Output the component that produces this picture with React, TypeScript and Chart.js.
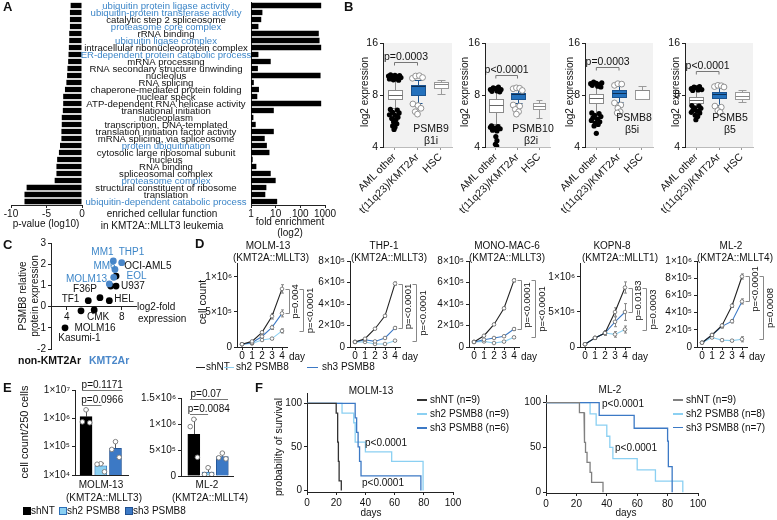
import React, { useEffect, useRef } from 'react';
import { Chart, registerables } from 'chart.js';

Chart.register(...registerables);

const FONT = '"Liberation Sans", Arial, Helvetica, sans-serif';
Chart.defaults.font.family = FONT;
Chart.defaults.font.size = 10;
Chart.defaults.color = '#111';

const INK = '#111';
const BLUE_TXT = '#3d86c8';
const BOX_BLUE = '#2371bd';
const SH2 = '#8bd0f2';
const SH3 = '#3c79c5';
const NT = '#222';

// ---------------- Panel A data ----------------
const goTerms = [
  'ubiquitin protein ligase activity',
  'ubiquitin-protein transferase activity',
  'catalytic step 2 spliceosome',
  'proteasome core complex',
  'rRNA binding',
  'ubiquitin ligase complex',
  'intracellular ribonucleoprotein complex',
  'ER-dependent protein catabolic process',
  'mRNA processing',
  'RNA secondary structure unwinding',
  'nucleolus',
  'RNA splicing',
  'chaperone-mediated protein folding',
  'nuclear speck',
  'ATP-dependent RNA helicase activity',
  'translational initiation',
  'nucleoplasm',
  'transcription, DNA-templated',
  'translation initiation factor activity',
  'mRNA splicing, via spliceosome',
  'protein ubiquitination',
  'cytosolic large ribosomal subunit',
  'nucleus',
  'RNA binding',
  'spliceosomal complex',
  'proteasome complex',
  'structural constituent of ribosome',
  'translation',
  'ubiquitin-dependent catabolic process',
];
const goProteasomeTerms = [0, 1, 3, 5, 7, 20, 25, 28];
const goLog10P = [-1.6, -1.7, -1.7, -1.7, -1.8, -1.8, -1.85, -1.9, -1.95, -2.05, -2.1, -2.2, -2.4, -2.65, -2.65, -2.7, -2.85, -2.85, -2.9, -2.9, -3.1, -3.25, -3.5, -3.6, -3.6, -3.85, -7.8, -8.1, -8.1];
const goFoldEnrichment = [700, 2.9, 2.6, 2.0, 560, 600, 700, 2.0, 6.3, 1.9, 660, 1.3, 2.1, 1.8, 700, 8.4, 1.25, 1.55, 8.4, 3.6, 4.4, 5.6, 1.17, 1.65, 6.3, 10, 4.2, 3.8, 11.5];
const pTicks = [-10, -5, 0];
const foldTicks = [1, 10, 100, 1000];

// ---------------- Panel B data ----------------
const boxGroups = ['AML other', 't(11q23)/KMT2Ar', 'HSC'];
const log2Ticks = [4, 8, 16];
// [lower whisker, q1, median, q3, upper whisker]
const psmb9Stats = [[6.7, 7.6, 8.0, 8.6, 10.1], [7.2, 8.0, 9.0, 9.1, 9.8], [8.1, 8.8, 9.3, 9.5, 9.8]];
const psmb9AmlOut = [[-0.26, 10.3], [-0.17, 10.45], [-0.08, 10.25], [0.02, 10.4], [0.12, 10.2], [0.22, 10.35], [-0.22, 9.9], [-0.05, 9.8], [0.08, 9.95], [0.18, 9.75], [0.28, 10.1], [-0.12, 10.05], [-0.18, 6.6], [0.12, 6.55], [-0.08, 6.35], [0.2, 6.3], [-0.22, 6.15], [0.02, 6.1], [0.15, 5.95], [-0.12, 5.85], [0.06, 5.75], [-0.04, 5.6], [0.1, 5.45], [-0.08, 5.3], [0.02, 5.2], [-0.02, 5.05]];
const psmb9KmtOut = [[0.78, 10.0], [0.92, 10.3], [1.08, 10.35], [1.22, 10.1], [0.8, 7.1], [1.02, 6.95], [1.15, 6.7], [0.9, 6.4], [1.0, 6.2]];
const psmb10Stats = [[5.4, 6.4, 7.0, 7.6, 8.6], [7.2, 7.6, 8.06, 8.2, 8.6], [5.9, 6.6, 6.9, 7.2, 7.5]];
const psmb10AmlOut = [[-0.25, 8.6], [-0.12, 8.8], [0.0, 8.7], [0.12, 8.9], [0.24, 8.6], [-0.18, 8.4], [0.06, 8.45], [0.18, 8.35], [-0.2, 5.3], [0.1, 5.25], [-0.05, 5.15], [0.2, 5.1], [-0.15, 5.0], [0.05, 4.95], [-0.25, 5.2], [0.0, 4.6], [0.05, 4.35], [-0.02, 4.15], [0.04, 4.05]];
const psmb10KmtOut = [[0.8, 8.7], [0.95, 8.8], [1.1, 8.75], [1.22, 8.5], [0.8, 7.0], [1.1, 6.9], [0.9, 6.6], [1.05, 6.4], [0.95, 6.2]];
const psmb8Stats = [[6.0, 7.2, 7.7, 8.06, 9.1], [7.3, 7.8, 8.2, 8.6, 9.0], [7.6, 7.6, 8.5, 8.6, 9.0]];
const psmb8AmlOut = [[-0.25, 9.3], [-0.12, 9.5], [0.0, 9.35], [0.12, 9.2], [0.24, 9.4], [-0.18, 9.1], [0.06, 9.0], [0.2, 8.9], [-0.2, 6.3], [0.12, 6.25], [-0.08, 6.1], [0.2, 6.0], [-0.15, 5.9], [0.05, 5.8], [-0.22, 5.7], [0.15, 5.6], [-0.05, 5.5], [0.08, 5.4], [-0.1, 5.3], [0.0, 4.8]];
const psmb8KmtOut = [[0.8, 9.1], [0.95, 9.3], [1.12, 9.25], [0.8, 7.2], [1.08, 7.0], [0.95, 6.7], [1.05, 6.4], [0.92, 6.3]];
const psmb5Stats = [[6.4, 7.2, 7.5, 7.8, 8.8], [7.0, 7.66, 8.06, 8.35, 8.9], [7.3, 7.6, 7.9, 8.3, 8.5]];
const psmb5AmlOut = [[-0.22, 8.7], [-0.1, 8.9], [0.02, 8.8], [0.14, 8.95], [0.24, 8.6], [-0.16, 8.5], [0.08, 8.55], [-0.2, 6.95], [0.12, 6.9], [-0.08, 6.75], [0.2, 6.7], [-0.15, 6.55], [0.05, 6.45], [-0.22, 6.35], [0.15, 6.3], [-0.05, 6.1], [0.06, 6.0], [-0.02, 5.75]];
const psmb5KmtOut = [[0.8, 8.95], [0.95, 9.1], [1.1, 9.05], [1.22, 8.9], [0.82, 6.9], [1.1, 6.8], [0.95, 6.5], [1.05, 6.35]];

// ---------------- Panel C data ----------------
const kmt2arLines = ['MM1', 'THP1', 'MM6', 'EOL', 'MOLM13'];
const kmt2arFold = [7.39, 8.0, 7.51, 7.42, 7.1];
const kmt2arProtein = [2.15, 2.07, 1.75, 1.38, 1.07];
const otherLines = ['OCI-AML5', 'U937', 'U937', 'F36P', 'TF1', 'HEL', 'CMK', 'CMK', 'MOLM16'];
const otherFold = [7.59, 7.2, 7.59, 6.42, 5.57, 7.1, 5.04, 6.0, 3.88];
const otherProtein = [1.44, 0.97, 0.97, 0.42, 0.28, 0.28, -0.2, -0.16, -1.0];

// ---------------- Panel D data ----------------
const days = [0, 1, 2, 3, 4];
const molm13NT = [0.04e6, 0.08e6, 0.21e6, 0.44e6, 0.83e6];
const molm13Sh2 = [0.04e6, 0.05e6, 0.1e6, 0.12e6, 0.23e6];
const molm13Sh3 = [0.04e6, 0.06e6, 0.15e6, 0.28e6, 0.48e6];
const molm13Err = [[0.004e6, 0.01e6, 0.02e6, 0.04e6, 0.06e6], [0.004e6, 0.008e6, 0.012e6, 0.015e6, 0.03e6], [0.004e6, 0.01e6, 0.02e6, 0.03e6, 0.05e6]];
const thp1NT = [0.047e6, 0.077e6, 0.17e6, 0.29e6, 0.59e6];
const thp1Sh2 = [0.047e6, 0.047e6, 0.028e6, 0.028e6, 0.059e6];
const thp1Sh3 = [0.047e6, 0.068e6, 0.052e6, 0.084e6, 0.177e6];
const thp1Err = [[0.003e6, 0.005e6, 0.008e6, 0.01e6, 0.015e6], [0.003e6, 0.004e6, 0.004e6, 0.004e6, 0.006e6], [0.003e6, 0.005e6, 0.005e6, 0.008e6, 0.012e6]];
const monoNT = [0.047e6, 0.105e6, 0.21e6, 0.36e6, 0.62e6];
const monoSh2 = [0.047e6, 0.052e6, 0.037e6, 0.05e6, 0.09e6];
const monoSh3 = [0.047e6, 0.068e6, 0.084e6, 0.1e6, 0.167e6];
const monoErr = [[0.003e6, 0.006e6, 0.01e6, 0.012e6, 0.015e6], [0.003e6, 0.004e6, 0.004e6, 0.005e6, 0.008e6], [0.003e6, 0.005e6, 0.006e6, 0.008e6, 0.012e6]];
const kopnNT = [0.04e6, 0.13e6, 0.2e6, 0.5e6, 0.85e6];
const kopnSh2 = [0.04e6, 0.13e6, 0.2e6, 0.18e6, 0.25e6];
const kopnSh3 = [0.04e6, 0.13e6, 0.2e6, 0.36e6, 0.5e6];
const kopnErr = [[0.004e6, 0.02e6, 0.03e6, 0.06e6, 0.08e6], [0.004e6, 0.02e6, 0.03e6, 0.04e6, 0.05e6], [0.004e6, 0.02e6, 0.03e6, 0.07e6, 0.12e6]];
const ml2NT = [0.05e6, 0.14e6, 0.25e6, 0.48e6, 0.82e6];
const ml2Sh2 = [0.05e6, 0.11e6, 0.08e6, 0.074e6, 0.09e6];
const ml2Sh3 = [0.05e6, 0.14e6, 0.24e6, 0.3e6, 0.53e6];
const ml2Err = [[0.005e6, 0.01e6, 0.02e6, 0.02e6, 0.03e6], [0.005e6, 0.01e6, 0.01e6, 0.012e6, 0.03e6], [0.005e6, 0.01e6, 0.02e6, 0.02e6, 0.03e6]];

// ---------------- Panel E data ----------------
const colonyGroups = ['shNT', 'sh2 PSMB8', 'sh3 PSMB8'];
const molm13Colony = [1.15e6, 2.1e4, 8.8e4];
const molm13ColonySd = [0.85e6, 0.5e4, 0.7e5];
const molm13ColonyReps = [[2.0e6, 0.75e6, 0.7e6], [2.5e4, 2.4e4, 1.3e4], [1.5e5, 8.0e4, 4.2e4]];
const ml2Colony = [0.8e6, 0.073e6, 0.373e6];
const ml2ColonySd = [0.29e6, 0.1e6, 0.08e6];
const ml2ColonyReps = [[1.09e6, 0.95e6, 0.36e6], [0.16e6, 0.03e6, 0.03e6], [0.44e6, 0.35e6, 0.33e6]];
const repJitter = [0, -0.25, 0.25];

// ---------------- Panel F data ----------------
// [day of event, survival (%) after event]
const molm13SurvNT = [[20, 88.9], [21, 55.6], [21.5, 33.3], [22, 11.1], [23.5, 0]];
const molm13SurvSh2 = [[24, 88.9], [32, 77.8], [33, 55.6], [40, 44.4], [58, 33.3], [79.5, 0]];
const molm13SurvSh3 = [[33, 83.3], [34, 66.7], [35, 50], [36, 33.3], [37, 16.7], [78, 0]];
const ml2SurvNT = [[22, 88.9], [25, 66.7], [25.5, 55.6], [26, 44.4], [27, 33.3], [29, 22.2], [30, 11.1], [37.5, 0]];
const ml2SurvSh2 = [[29, 87.5], [33, 75], [40, 62.5], [42, 50], [44, 37.5], [60, 25], [72, 12.5], [90, 0]];
const ml2SurvSh3 = [[35, 85.7], [58, 71.4], [80, 57.1], [80.5, 28.6], [83, 0]];
const dayTicks = [0, 20, 40, 60, 80, 100];
const survTicks = [0, 50, 100];

// ---------------- helpers ----------------
const SUP: any = { '0': '⁰', '1': '¹', '2': '²', '3': '³', '4': '⁴', '5': '⁵', '6': '⁶', '7': '⁷', '8': '⁸', '9': '⁹' };
function sci(v: number) {
  if (v === 0) return '0';
  const e = Math.floor(Math.log10(v) + 1e-9);
  const mnt = Math.round((v / Math.pow(10, e)) * 10) / 10;
  return `${mnt}×10${String(e).split('').map((c) => SUP[c]).join('')}`;
}
const fitW = (w: number) => (s: any) => { s.width = w; };
const fitH = (h: number) => (s: any) => { s.height = h; };
const fixTicks = (vals: number[]) => (s: any) => { s.ticks = vals.map((v) => ({ value: v })); };

function axis(o: any = {}) {
  return {
    display: true,
    ...o,
    grid: { display: true, drawOnChartArea: false, drawTicks: true, tickLength: 3, color: '#222', lineWidth: 1, ...(o.grid || {}) },
    border: { display: true, color: '#222', width: 1, ...(o.border || {}) },
    ticks: { padding: 2, color: INK, font: { size: 10, family: FONT }, ...(o.ticks || {}) },
  };
}
const pad = (m: any) => ({ padding: { left: 0, right: m.r, top: m.t, bottom: 0 } });

// ---------------- plugins ----------------
const rowLabelPlugin = {
  id: 'rowLabels',
  afterDraw(chart: any, _a: any, o: any) {
    const y = chart.scales.y; const ctx = chart.ctx;
    ctx.save();
    ctx.font = `9.6px ${FONT}`; ctx.textAlign = 'center'; ctx.textBaseline = 'middle';
    o.labels.forEach((t: string, i: number) => {
      ctx.fillStyle = o.blue.includes(i) ? BLUE_TXT : INK;
      ctx.fillText(t, o.x, y.getPixelForValue(i) + 0.5);
    });
    ctx.restore();
  },
};
const bgPlugin = {
  id: 'plotBg',
  beforeDraw(chart: any, _a: any, o: any) {
    const a = chart.chartArea; const ctx = chart.ctx;
    ctx.save(); ctx.fillStyle = o.color || '#f2f2f2';
    ctx.fillRect(a.left, a.top, a.right - a.left, a.bottom - a.top); ctx.restore();
  },
};
const boxPlugin = {
  id: 'boxes',
  beforeDatasetsDraw(chart: any, _a: any, o: any) {
    const { x, y } = chart.scales; const ctx = chart.ctx;
    ctx.save();
    (o.items || []).forEach((b: any, i: number) => {
      const cx = Math.round(x.getPixelForValue(i)) + 0.5;
      const hw = Math.round(x.getPixelForValue(i + 0.3) - x.getPixelForValue(i));
      const cw = Math.round(hw * 0.55);
      const [lo, q1, md, q3, hi] = b.stats.map((v: number) => Math.round(y.getPixelForValue(v)) + 0.5);
      ctx.lineWidth = 1; ctx.strokeStyle = b.stroke;
      ctx.beginPath();
      ctx.moveTo(cx, lo); ctx.lineTo(cx, q1); ctx.moveTo(cx, q3); ctx.lineTo(cx, hi);
      ctx.moveTo(cx - cw, lo); ctx.lineTo(cx + cw, lo); ctx.moveTo(cx - cw, hi); ctx.lineTo(cx + cw, hi);
      ctx.stroke();
      ctx.fillStyle = b.fill; ctx.fillRect(cx - hw, q3, 2 * hw, q1 - q3);
      ctx.strokeRect(cx - hw, q3, 2 * hw, q1 - q3);
      ctx.strokeStyle = b.median; ctx.beginPath(); ctx.moveTo(cx - hw, md); ctx.lineTo(cx + hw, md); ctx.stroke();
    });
    ctx.restore();
  },
};
const hBracketPlugin = {
  id: 'hbr',
  afterDatasetsDraw(chart: any, _a: any, o: any) {
    const { x, y } = chart.scales; const ctx = chart.ctx;
    ctx.save();
    (o.items || []).forEach((b: any) => {
      const x1 = x.getPixelForValue(b.x1), x2 = x.getPixelForValue(b.x2);
      const py = Math.round(y.getPixelForValue(b.y)) + 0.5;
      ctx.strokeStyle = o.color || '#666'; ctx.lineWidth = 1;
      ctx.beginPath();
      if (b.tick) { ctx.moveTo(x1, py + b.tick); ctx.lineTo(x1, py); ctx.lineTo(x2, py); ctx.lineTo(x2, py + b.tick); }
      else { ctx.moveTo(x1, py); ctx.lineTo(x2, py); }
      ctx.stroke();
      ctx.fillStyle = INK; ctx.font = `${o.size || 10}px ${FONT}`; ctx.textAlign = 'center'; ctx.textBaseline = 'alphabetic';
      ctx.fillText(b.text, x.getPixelForValue(b.tx !== undefined ? b.tx : (b.x1 + b.x2) / 2), py - (o.gap || 3));
    });
    ctx.restore();
  },
};
const vBracketPlugin = {
  id: 'vbr',
  afterDatasetsDraw(chart: any, _a: any, o: any) {
    const y = chart.scales.y; const a = chart.chartArea; const ctx = chart.ctx;
    ctx.save();
    (o.items || []).forEach((b: any, i: number) => {
      const lx = Math.round(a.right + o.lines[i]) + 0.5;
      const y1 = Math.round(y.getPixelForValue(b.y1)) + 0.5, y2 = Math.round(y.getPixelForValue(b.y2)) + 0.5;
      ctx.strokeStyle = '#888'; ctx.lineWidth = 1;
      ctx.beginPath(); ctx.moveTo(lx - 4, y1); ctx.lineTo(lx, y1); ctx.lineTo(lx, y2); ctx.lineTo(lx - 4, y2); ctx.stroke();
      ctx.save();
      ctx.translate(a.right + o.texts[i], (y1 + y2) / 2); ctx.rotate(-Math.PI / 2);
      ctx.fillStyle = INK; ctx.font = `9.5px ${FONT}`; ctx.textAlign = 'center'; ctx.textBaseline = 'middle';
      ctx.fillText(b.text, 0, 0);
      ctx.restore();
    });
    ctx.restore();
  },
};
const errPlugin = {
  id: 'err',
  beforeDatasetsDraw(chart: any, _a: any, o: any) {
    const { x, y } = chart.scales; const ctx = chart.ctx;
    ctx.save(); ctx.strokeStyle = o.color || '#777'; ctx.lineWidth = 1;
    (o.items || []).forEach((it: any) => {
      const px = Math.round(x.getPixelForValue(it.x)) + 0.5;
      const top = y.getPixelForValue(it.v + it.e);
      const bot = it.up ? y.getPixelForValue(it.v) : y.getPixelForValue(Math.max(it.v - it.e, 0));
      const cap = o.cap || 1.5;
      ctx.beginPath(); ctx.moveTo(px, top); ctx.lineTo(px, bot);
      ctx.moveTo(px - cap, top); ctx.lineTo(px + cap, top);
      if (!it.up) { ctx.moveTo(px - cap, bot); ctx.lineTo(px + cap, bot); }
      ctx.stroke();
    });
    ctx.restore();
  },
};
const ptLabelPlugin = {
  id: 'ptLabels',
  afterDatasetsDraw(chart: any, _a: any, o: any) {
    const { x, y } = chart.scales; const ctx = chart.ctx;
    ctx.save(); ctx.font = `10px ${FONT}`; ctx.textAlign = 'center'; ctx.textBaseline = 'middle';
    (o.items || []).forEach((it: any) => {
      ctx.fillStyle = it.blue ? BLUE_TXT : INK;
      ctx.fillText(it.t, x.getPixelForValue(it.x), y.getPixelForValue(it.y));
    });
    ctx.restore();
  },
};

// ---------------- chart box ----------------
function ChartBox({ plot, m, make }: any) {
  const ref = useRef<HTMLCanvasElement | null>(null);
  const w = plot.right - plot.left + m.l + m.r;
  const h = plot.bottom - plot.top + m.t + m.b;
  useEffect(() => {
    const cfg = make(m);
    cfg.options = { responsive: false, maintainAspectRatio: false, animation: false, devicePixelRatio: 1, events: [], ...cfg.options };
    cfg.options.plugins = { legend: { display: false }, tooltip: { enabled: false }, ...(cfg.options.plugins || {}) };
    const chart = new Chart(ref.current as HTMLCanvasElement, cfg);
    return () => chart.destroy();
  }, []);
  return <canvas ref={ref} width={w} height={h} style={{ position: 'absolute', left: plot.left - m.l, top: plot.top - m.t, width: w, height: h }} />;
}

// ---------------- configs ----------------
const makeGoP = (m: any) => ({
  type: 'bar',
  data: { labels: goTerms, datasets: [{ data: goLog10P, backgroundColor: '#000', barPercentage: 0.76, categoryPercentage: 1 }] },
  options: {
    indexAxis: 'y',
    layout: { padding: { left: m.l, right: m.r, top: m.t, bottom: 0 } },
    plugins: { rowLabels: { labels: goTerms, blue: goProteasomeTerms, x: 166 } },
    scales: {
      x: axis({ min: -10, max: 0, afterFit: fitH(m.b), afterBuildTicks: fixTicks(pTicks), ticks: { padding: 0, maxRotation: 0, minRotation: 0, autoSkip: false } }),
      y: { display: false },
    },
  },
  plugins: [rowLabelPlugin],
});
const makeGoFold = (m: any) => ({
  type: 'bar',
  data: { labels: goTerms, datasets: [{ data: goFoldEnrichment, backgroundColor: '#000', barPercentage: 0.76, categoryPercentage: 1 }] },
  options: {
    indexAxis: 'y',
    layout: pad(m),
    scales: {
      x: axis({ type: 'logarithmic', min: 1, max: 1000, afterFit: fitH(m.b), afterBuildTicks: fixTicks(foldTicks), ticks: { padding: 0, maxRotation: 0, minRotation: 0, autoSkip: false, callback: (v: number) => String(v) } }),
      y: axis({ afterFit: fitW(m.l), grid: { display: false }, ticks: { display: false } }),
    },
  },
});

const boxStyles = [
  { fill: '#ffffff', stroke: '#8a8a8a', median: '#666' },
  { fill: BOX_BLUE, stroke: '#1c548f', median: '#0d2f55' },
  { fill: '#ffffff', stroke: '#9a9a9a', median: '#888' },
];
const makeBox = (stats: number[][], aml: number[][], kmt: number[][], brY: number, pText: string) => (m: any) => ({
  type: 'scatter',
  data: {
    datasets: [
      { data: aml.map(([x, y]) => ({ x, y })), pointRadius: 2.6, backgroundColor: '#000', borderColor: '#000', borderWidth: 0 },
      { data: kmt.map(([x, y]) => ({ x, y })), pointRadius: 2.9, backgroundColor: '#fff', borderColor: '#888', borderWidth: 0.9 },
    ],
  },
  options: {
    layout: pad(m),
    plugins: {
      plotBg: { color: '#f2f2f2' },
      boxes: { items: stats.map((s, i) => ({ stats: s, ...boxStyles[i] })) },
      hbr: { items: [{ x1: 0, x2: 1, y: brY, text: pText, tick: 3 }], size: 10.5, gap: 3, color: '#777' },
    },
    scales: {
      x: axis({ type: 'linear', min: -0.5, max: 2.5, offset: false, afterFit: fitH(m.b), afterBuildTicks: fixTicks([0, 1, 2]), border: { color: '#bbb' }, grid: { color: '#999' }, ticks: { autoSkip: false, maxRotation: 45, minRotation: 45, padding: 1, font: { size: 10.5 }, callback: (v: number) => boxGroups[v] } }),
      y: axis({ type: 'logarithmic', min: 4, max: 16, afterFit: fitW(m.l), afterBuildTicks: fixTicks(log2Ticks), ticks: { font: { size: 10.5 }, callback: (v: number) => String(v) } }),
    },
  },
  plugins: [bgPlugin, boxPlugin, hBracketPlugin],
});

const cLabelItems = [
  { t: 'MM1', x: 6.6, y: 2.55, blue: true },
  { t: 'THP1', x: 8.71, y: 2.55, blue: true },
  { t: 'MM6', x: 6.75, y: 1.92, blue: true },
  { t: 'OCI-AML5', x: 9.9, y: 1.92 },
  { t: 'MOLM13', x: 5.44, y: 1.29, blue: true },
  { t: 'EOL', x: 9.08, y: 1.45, blue: true },
  { t: 'F36P', x: 5.33, y: 0.82 },
  { t: 'U937', x: 8.82, y: 0.98 },
  { t: 'TF1', x: 4.28, y: 0.35 },
  { t: 'HEL', x: 8.17, y: 0.35 },
  { t: 'CMK', x: 6.28, y: -0.5 },
  { t: 'MOLM16', x: 6.06, y: -1.0 },
  { t: 'Kasumi-1', x: 4.93, y: -1.48 },
];
const makeScatterC = (m: any) => ({
  type: 'scatter',
  data: {
    datasets: [
      { label: 'KMT2Ar', data: kmt2arFold.map((x, i) => ({ x, y: kmt2arProtein[i] })), pointRadius: 3.4, backgroundColor: '#4a87c9', borderWidth: 0 },
      { label: 'non-KMT2Ar', data: otherFold.map((x, i) => ({ x, y: otherProtein[i] })), pointRadius: 3.4, backgroundColor: '#000', borderWidth: 0 },
    ],
  },
  options: {
    layout: { padding: { left: 0, right: m.r, top: m.t, bottom: m.b } },
    plugins: { ptLabels: { items: cLabelItems } },
    scales: {
      x: axis({ type: 'linear', min: 2.86, max: 9.04, position: { y: 0 }, afterBuildTicks: fixTicks([4, 8]), ticks: { maxRotation: 0, minRotation: 0 } }),
      y: axis({ min: -2, max: 3, afterFit: fitW(m.l), ticks: { stepSize: 1 } }),
    },
  },
  plugins: [ptLabelPlugin],
});

const makeGrowth = (nt: number[], sh2: number[], sh3: number[], err: number[][], ymax: number, yTicks: number[], br: any[]) => (m: any) => {
  const ds = (vals: number[], color: string) => ({
    data: days.map((d, i) => ({ x: d, y: vals[i] })), borderColor: color, borderWidth: 1.1, showLine: true,
    pointRadius: 1.8, pointBackgroundColor: '#fff', pointBorderColor: '#666', pointBorderWidth: 0.8, clip: false,
  });
  const errItems: any[] = [];
  [nt, sh2, sh3].forEach((s, k) => s.forEach((v, j) => errItems.push({ x: j, v, e: err[k][j] })));
  return {
    type: 'scatter',
    data: { datasets: [ds(nt, NT), ds(sh3, SH3), ds(sh2, SH2)] },
    options: {
      layout: pad(m),
      plugins: {
        err: { items: errItems, color: '#888', cap: 1.5 },
        vbr: { items: br, lines: [1.5, 15.5], texts: [8.5, 23] },
      },
      scales: {
        x: axis({ type: 'linear', min: -0.5, max: 4.5, afterFit: fitH(m.b), afterBuildTicks: fixTicks(days), ticks: { padding: 0, maxRotation: 0, minRotation: 0, autoSkip: false } }),
        y: axis({ min: 0, max: ymax, afterFit: fitW(m.l), afterBuildTicks: fixTicks(yTicks), ticks: { callback: (v: number) => sci(v) } }),
      },
    },
    plugins: [errPlugin, vBracketPlugin],
  };
};

const colonyFill = ['#000', SH2, SH3];
const colonyBorder = ['#000', '#2d6fb7', '#1f4f8f'];
const makeColony = (means: number[], sd: number[], reps: number[][], yOpts: any, xr: number[], br: any[]) => (m: any) => {
  const pts: any[] = [];
  reps.forEach((r, i) => r.forEach((v, j) => pts.push({ x: i + repJitter[j], y: v })));
  return {
    type: 'bar',
    data: {
      datasets: [
        { type: 'bar', data: means.map((v, i) => ({ x: i, y: v })), backgroundColor: colonyFill, borderColor: colonyBorder, borderWidth: 0.8, barThickness: 12, order: 2 },
        { type: 'scatter', data: pts, pointRadius: 2.3, backgroundColor: '#fff', borderColor: '#777', borderWidth: 0.9, order: 1 },
      ],
    },
    options: {
      layout: pad(m),
      plugins: {
        err: { items: means.map((v, i) => ({ x: i, v, e: sd[i], up: true })), color: '#555', cap: 2.5 },
        hbr: { items: br, size: 10, gap: 3, color: '#777' },
      },
      scales: {
        x: axis({ type: 'linear', min: xr[0], max: xr[1], offset: false, afterFit: fitH(m.b), grid: { display: false }, ticks: { display: false } }),
        y: axis({ ...yOpts, afterFit: fitW(m.l), ticks: { callback: (v: number) => sci(v) } }),
      },
    },
    plugins: [errPlugin, hBracketPlugin],
  };
};

function kmSteps(events: number[][]) {
  const pts = [{ x: 0, y: 100 }];
  let prev = 100;
  events.forEach(([t, s]) => { pts.push({ x: t, y: prev }); pts.push({ x: t, y: s }); prev = s; });
  return pts;
}
const makeSurv = (nt: number[][], sh2: number[][], sh3: number[][], ntColor: string, yr: number[]) => (m: any) => {
  const ds = (ev: number[][], color: string, w: number) => ({ data: kmSteps(ev), borderColor: color, borderWidth: w, showLine: true, pointRadius: 0, tension: 0, clip: false });
  return {
    type: 'scatter',
    data: { datasets: [ds(nt, ntColor, 1.3), ds(sh3, SH3, 1.3), ds(sh2, SH2, 1.3)] },
    options: {
      layout: pad(m),
      scales: {
        x: axis({ type: 'linear', min: 0, max: 100, afterFit: fitH(m.b), afterBuildTicks: fixTicks(dayTicks), ticks: { maxRotation: 0, minRotation: 0, autoSkip: false } }),
        y: axis({ min: yr[0], max: yr[1], afterFit: fitW(m.l), afterBuildTicks: fixTicks(survTicks) }),
      },
    },
  };
};

// ---------------- html text helpers ----------------
const T = (p: any) => {
  const { x, y, s = 10, a = 'c', c = INK, b = false, r = false, children } = p;
  const tx = a === 'c' ? '-50%' : a === 'r' ? '-100%' : '0';
  return (
    <div style={{
      position: 'absolute', left: x, top: y, whiteSpace: 'nowrap', fontFamily: FONT, fontSize: s,
      lineHeight: 1.2, color: c, fontWeight: b ? 700 : 400, textAlign: 'center',
      transform: r ? 'translate(-50%,-50%) rotate(-90deg)' : `translate(${tx},-50%)`,
    }}>{children}</div>
  );
};
const Ln = ({ x1, x2, y, c, w = 1.2 }: any) => (
  <div style={{ position: 'absolute', left: x1, top: y - w / 2, width: x2 - x1, height: w, background: c }} />
);
const Sq = ({ x, y, c, bc }: any) => (
  <div style={{ position: 'absolute', left: x, top: y - 4, width: 6, height: 6, background: c, border: `1px solid ${bc}` }} />
);

const M_B = { l: 33, r: 6, t: 13, b: 68 };
const M_D = { l: 40, r: 30, t: 8, b: 14 };
const M_F = { l: 28, r: 12, t: 5, b: 18 };

export default function App() {
  return (
    <div style={{ position: 'absolute', left: 0, top: 0, width: 777, height: 520, background: '#fff', overflow: 'hidden', fontFamily: FONT }}>
      {/* ---------- A ---------- */}
      <ChartBox plot={{ left: 11, right: 82, top: 2, bottom: 205 }} m={{ l: 11, r: 175, t: 0, b: 16 }} make={makeGoP} />
      <ChartBox plot={{ left: 251, right: 325, top: 2, bottom: 205 }} m={{ l: 10, r: 16, t: 0, b: 16 }} make={makeGoFold} />
      <T x={3} y={7} a="l" s={13} b>A</T>
      <T x={46} y={224}>p-value (log10)</T>
      <T x={162} y={214}>enriched cellular function</T>
      <T x={162} y={226}>in KMT2A::MLLT3 leukemia</T>
      <T x={290} y={222}>fold enrichment</T>
      <T x={290} y={233}>(log2)</T>

      {/* ---------- B ---------- */}
      <T x={344} y={7} a="l" s={13} b>B</T>
      <ChartBox plot={{ left: 383, right: 452, top: 43, bottom: 147 }} m={M_B} make={makeBox(psmb9Stats, psmb9AmlOut, psmb9KmtOut, 12.4, 'p=0.0003')} />
      <ChartBox plot={{ left: 485, right: 550, top: 43, bottom: 147 }} m={M_B} make={makeBox(psmb10Stats, psmb10AmlOut, psmb10KmtOut, 10.4, 'p<0.0001')} />
      <ChartBox plot={{ left: 585, right: 653, top: 43, bottom: 147 }} m={M_B} make={makeBox(psmb8Stats, psmb8AmlOut, psmb8KmtOut, 11.6, 'p=0.0003')} />
      <ChartBox plot={{ left: 685, right: 753, top: 43, bottom: 147 }} m={{ ...M_B, r: 8 }} make={makeBox(psmb5Stats, psmb5AmlOut, psmb5KmtOut, 11.0, 'p<0.0001')} />
      <T x={365} y={92} r>log2 expression</T>
      <T x={465} y={92} r>log2 expression</T>
      <T x={570} y={92} r>log2 expression</T>
      <T x={676} y={92} r>log2 expression</T>
      <T x={431} y={128} s={10.5}>PSMB9</T>
      <T x={431} y={140} s={10.5}>β1i</T>
      <T x={533} y={128} s={10.5}>PSMB10</T>
      <T x={531} y={140} s={10.5}>β2i</T>
      <T x={634} y={117} s={10.5}>PSMB8</T>
      <T x={632} y={129} s={10.5}>β5i</T>
      <T x={730} y={117} s={10.5}>PSMB5</T>
      <T x={730} y={129} s={10.5}>β5</T>

      {/* ---------- C ---------- */}
      <T x={3} y={245} a="l" s={13} b>C</T>
      <ChartBox plot={{ left: 51, right: 136, top: 243, bottom: 349 }} m={{ l: 51, r: 52, t: 10, b: 8 }} make={makeScatterC} />
      <T x={29} y={296} r>PSMB8 relative<br />protein expression</T>
      <T x={137} y={307} a="l">log2-fold</T>
      <T x={138} y={318.5} a="l">expression</T>
      <T x={18} y={360} a="l" s={10.5} b>non-KMT2Ar</T>
      <T x={89} y={360} a="l" s={10.5} b c="#4a87c9">KMT2Ar</T>

      {/* ---------- D ---------- */}
      <T x={195} y={244} a="l" s={13} b>D</T>
      <T x={202} y={302} r s={10.5}>cell count</T>
      <ChartBox plot={{ left: 237, right: 287, top: 263, bottom: 347 }} m={M_D} make={makeGrowth(molm13NT, molm13Sh2, molm13Sh3, molm13Err, 1.2e6, [0, 5e5, 1e6], [{ y1: molm13NT[4], y2: molm13Sh3[4], text: 'p=0.004' }, { y1: molm13NT[4], y2: molm13Sh2[4], text: 'p=<0.0001' }])} />
      <ChartBox plot={{ left: 350, right: 400, top: 261, bottom: 347 }} m={M_D} make={makeGrowth(thp1NT, thp1Sh2, thp1Sh3, thp1Err, 8e5, [0, 2e5, 4e5, 6e5, 8e5], [{ y1: thp1NT[4], y2: thp1Sh3[4], text: 'p=<0.0001' }, { y1: thp1NT[4], y2: thp1Sh2[4], text: 'p=<0.0001' }])} />
      <ChartBox plot={{ left: 469, right: 519, top: 261, bottom: 347 }} m={M_D} make={makeGrowth(monoNT, monoSh2, monoSh3, monoErr, 8e5, [0, 2e5, 4e5, 6e5, 8e5], [{ y1: monoNT[4], y2: monoSh3[4], text: 'p=<0.0001' }, { y1: monoNT[4], y2: monoSh2[4], text: 'p=<0.0001' }])} />
      <ChartBox plot={{ left: 580, right: 630, top: 263, bottom: 347 }} m={M_D} make={makeGrowth(kopnNT, kopnSh2, kopnSh3, kopnErr, 1.2e6, [0, 5e5, 1e6], [{ y1: kopnNT[4], y2: kopnSh3[4], text: 'p=0.0183' }, { y1: kopnNT[4], y2: kopnSh2[4], text: 'p=0.0003' }])} />
      <ChartBox plot={{ left: 697, right: 747, top: 261, bottom: 347 }} m={M_D} make={makeGrowth(ml2NT, ml2Sh2, ml2Sh3, ml2Err, 1e6, [0, 2e5, 4e5, 6e5, 8e5, 1e6], [{ y1: ml2NT[4], y2: ml2Sh3[4], text: 'p=<0.0001' }, { y1: ml2NT[4], y2: ml2Sh2[4], text: 'p=0.0008' }])} />
      <T x={268} y={246}>MOLM-13</T>
      <T x={271} y={258}>(KMT2A::MLLT3)</T>
      <T x={384} y={246}>THP-1</T>
      <T x={389} y={258}>(KMT2A::MLLT3)</T>
      <T x={507} y={246}>MONO-MAC-6</T>
      <T x={507} y={258}>(KMT2A::MLLT3)</T>
      <T x={612} y={246}>KOPN-8</T>
      <T x={620} y={258}>(KMT2A::MLLT1)</T>
      <T x={731} y={246}>ML-2</T>
      <T x={735} y={258}>(KMT2A::MLLT4)</T>
      <T x={289} y={357} a="l">day</T>
      <T x={402} y={357} a="l">day</T>
      <T x={521} y={357} a="l">day</T>
      <T x={632} y={357} a="l">day</T>
      <T x={749} y={357} a="l">day</T>
      <Ln x1={196} x2={205} y={367} c={NT} w={1} />
      <T x={206} y={367} a="l">shNT</T>
      <Ln x1={224} x2={234} y={367} c={SH2} w={1} />
      <T x={236} y={367} a="l">sh2 PSMB8</T>
      <Ln x1={307} x2={318} y={367} c={SH3} w={1} />
      <T x={322} y={367} a="l">sh3 PSMB8</T>

      {/* ---------- E ---------- */}
      <T x={3} y={388} a="l" s={13} b>E</T>
      <T x={25} y={432} r s={11}>cell count/250 cells</T>
      <ChartBox plot={{ left: 75, right: 128, top: 390, bottom: 475 }} m={{ l: 40, r: 8, t: 16, b: 10 }} make={makeColony(molm13Colony, molm13ColonySd, molm13ColonyReps, { type: 'logarithmic', min: 1e4, max: 1e7, afterBuildTicks: fixTicks([1e4, 1e5, 1e6, 1e7]) }, [-0.75, 2.85], [{ x1: -0.27, x2: 2.45, y: 1e7, text: 'p=0.1171', tx: 1.1 }, { x1: -0.27, x2: 1.05, y: 2.9e6, text: 'p=0.0966', tx: 1.1 }])} />
      <ChartBox plot={{ left: 181, right: 233, top: 398, bottom: 476 }} m={{ l: 48, r: 8, t: 22, b: 10 }} make={makeColony(ml2Colony, ml2ColonySd, ml2ColonyReps, { min: 0, max: 1.5e6, afterBuildTicks: fixTicks([0, 5e5, 1e6, 1.5e6]) }, [-0.9, 2.75], [{ x1: -0.27, x2: 2.4, y: 1.48e6, text: 'p=0.07', tx: 0.85 }, { x1: -0.27, x2: 1.0, y: 1.19e6, text: 'p=0.0084', tx: 1.05 }])} />
      <T x={101} y={485}>MOLM-13</T>
      <T x={104} y={498}>(KMT2A::MLLT3)</T>
      <T x={207} y={485}>ML-2</T>
      <T x={210} y={498}>(KMT2A::MLLT4)</T>
      <Sq x={23} y={511} c="#000" bc="#000" />
      <T x={31} y={511} a="l">{colonyGroups[0]}</T>
      <Sq x={59} y={511} c={SH2} bc="#2d6fb7" />
      <T x={67} y={511} a="l">{colonyGroups[1]}</T>
      <Sq x={125} y={511} c={SH3} bc="#1f4f8f" />
      <T x={133} y={511} a="l">{colonyGroups[2]}</T>

      {/* ---------- F ---------- */}
      <T x={255} y={388} a="l" s={13} b>F</T>
      <T x={278} y={447} r s={10.5}>probability of survival</T>
      <ChartBox plot={{ left: 307, right: 453, top: 390, bottom: 492 }} m={M_F} make={makeSurv(molm13SurvNT, molm13SurvSh2, molm13SurvSh3, '#333', [-1.8, 112])} />
      <ChartBox plot={{ left: 546, right: 698, top: 392, bottom: 493 }} m={M_F} make={makeSurv(ml2SurvNT, ml2SurvSh2, ml2SurvSh3, '#808080', [-0.8, 108.5])} />
      <T x={371} y={391}>MOLM-13</T>
      <T x={610} y={390}>ML-2</T>
      <T x={371} y={513}>days</T>
      <T x={626} y={513}>days</T>
      <T x={365} y={443} a="l">p&lt;0.0001</T>
      <T x={362} y={483} a="l">p&lt;0.0001</T>
      <T x={602} y={404} a="l">p&lt;0.0001</T>
      <T x={615} y={448} a="l">p&lt;0.0001</T>
      <Ln x1={417} x2={427} y={400} c="#333" />
      <T x={430} y={400} a="l">shNT (n=9)</T>
      <Ln x1={417} x2={427} y={414} c={SH2} />
      <T x={430} y={414} a="l">sh2 PSMB8 (n=9)</T>
      <Ln x1={417} x2={427} y={428} c={SH3} />
      <T x={430} y={428} a="l">sh3 PSMB8 (n=6)</T>
      <Ln x1={673} x2={683} y={399.5} c="#808080" w={2} />
      <T x={686} y={399.5} a="l">shNT (n=9)</T>
      <Ln x1={673} x2={683} y={414} c={SH2} />
      <T x={686} y={414} a="l">sh2 PSMB8 (n=8)</T>
      <Ln x1={673} x2={683} y={427.5} c={SH3} />
      <T x={686} y={427.5} a="l">sh3 PSMB8 (n=7)</T>
    </div>
  );
}
